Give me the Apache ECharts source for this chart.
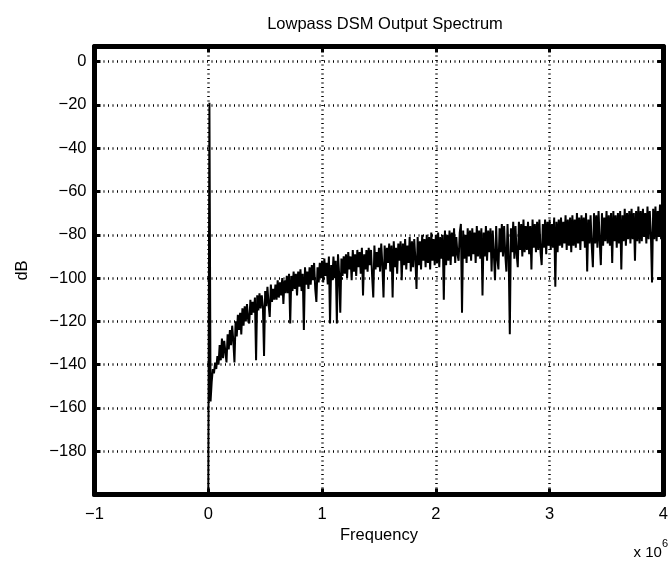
<!DOCTYPE html>
<html><head><meta charset="utf-8">
<script src="https://cdn.jsdelivr.net/npm/echarts@6/dist/echarts.min.js"></script>
<style>html,body{margin:0;padding:0;background:#fff}#c{width:671px;height:563px}</style>
</head><body><div id="c"></div>
<script>
const titleText = 'Lowpass DSM Output Spectrum';
const xAxisName = 'Frequency';
const yAxisName = 'dB';
const xTickLabels = [-1, 0, 1, 2, 3, 4];            // in units of 10^6 Hz
const yTickLabels = [0, -20, -40, -60, -80, -100, -120, -140, -160, -180];
const freqStepHz = 10000;                           // FFT bin spacing (first bin at 0 Hz)
const spectrumDb = [
  -200, -19, -157, -148, -142, -144, -139, -142, -136, -140,
  -131, -138, -128, -137, -129, -134, -139, -126, -133, -124,
  -131, -122, -129, -139, -120, -127, -117, -124, -116, -126,
  -114, -122, -113, -120, -112, -119, -121, -110, -117, -111,
  -116, -109, -138, -108, -115, -107, -114, -108, -113, -136,
  -106, -113, -104, -112, -118, -103, -111, -105, -110, -103,
  -110, -101, -109, -102, -108, -100, -112, -101, -107, -99,
  -107, -98, -121, -99, -106, -97, -105, -98, -108, -97,
  -104, -96, -106, -98, -124, -95, -103, -97, -105, -95,
  -103, -94, -101, -93, -105, -111, -95, -102, -93, -100,
  -92, -102, -91, -99, -93, -103, -90, -121, -94, -101,
  -90, -100, -92, -121, -89, -98, -116, -91, -99, -90,
  -98, -89, -100, -88, -96, -90, -101, -87, -97, -89,
  -99, -87, -95, -88, -98, -86, -108, -89, -96, -87,
  -97, -86, -94, -87, -99, -109, -85, -96, -88, -95,
  -86, -97, -84, -94, -109, -85, -96, -86, -93, -84,
  -97, -85, -109, -83, -95, -86, -98, -84, -92, -83,
  -101, -84, -94, -82, -96, -85, -93, -81, -97, -83,
  -95, -82, -91, -105, -81, -94, -83, -96, -80, -92,
  -82, -95, -80, -93, -81, -96, -79, -92, -82, -94,
  -80, -93, -79, -95, -81, -91, -80, -110, -78, -94,
  -80, -92, -78, -94, -79, -90, -77, -93, -81, -89,
  -92, -79, -75, -116, -78, -91, -80, -93, -77, -90,
  -78, -92, -77, -89, -79, -93, -76, -90, -78, -91,
  -77, -108, -79, -90, -76, -92, -78, -88, -77, -97,
  -78, -89, -101, -76, -91, -96, -77, -88, -75, -90,
  -76, -89, -97, -75, -90, -126, -77, -88, -74, -91,
  -76, -89, -95, -74, -87, -75, -90, -73, -88, -76,
  -87, -74, -89, -76, -96, -73, -86, -75, -88, -74,
  -87, -73, -88, -94, -75, -86, -73, -89, -74, -85,
  -73, -87, -75, -86, -72, -104, -74, -88, -73, -85,
  -72, -86, -74, -84, -71, -87, -73, -85, -72, -88,
  -71, -85, -73, -86, -70, -84, -72, -87, -71, -83,
  -72, -86, -70, -97, -73, -84, -71, -85, -95, -70,
  -84, -71, -86, -69, -83, -94, -70, -85, -72, -83,
  -69, -84, -71, -85, -70, -93, -69, -83, -71, -86,
  -70, -84, -69, -96, -71, -83, -68, -85, -70, -82,
  -69, -84, -68, -82, -70, -92, -69, -83, -67, -84,
  -69, -83, -68, -81, -70, -84, -67, -82, -69, -80,
  -102, -68, -82, -67, -83, -69, -80, -66, -82, -67,
  -72
];

const FONT = "'Liberation Sans', Arial, Helvetica, sans-serif";
const MINUS = '\u2212';
const fmt = v => (v < 0 ? MINUS + Math.abs(v) : String(v));
const chart = echarts.init(document.getElementById('c'), null, { renderer: 'canvas' });
const seriesData = spectrumDb.map((v, i) => [i * freqStepHz, v]);
const AX = { onZero: false, lineStyle: { color: '#000', width: 5 } };
const TICK = { show: true, inside: true, length: 6, lineStyle: { color: '#000', width: 3 } };
const GRIDLINE = { show: true, lineStyle: { color: '#000', width: 2.5, type: [1, 3.5] } };

chart.setOption({
  animation: false,
  backgroundColor: '#fff',
  title: {
    text: titleText, left: 380, top: 11, textAlign: 'center',
    textStyle: { fontFamily: FONT, fontSize: 16.5, fontWeight: 'normal', color: '#000' }
  },
  grid: { left: 94.5, right: 5.5, top: 46.5, bottom: 68.5 },
  xAxis: [{
    type: 'value', min: -1e6, max: 4e6, interval: 1e6, position: 'bottom',
    name: xAxisName, nameLocation: 'middle', nameGap: 31,
    nameTextStyle: { fontFamily: FONT, fontSize: 16.5, color: '#000' },
    axisLine: AX, axisTick: TICK, splitLine: GRIDLINE,
    axisLabel: {
      margin: 11, fontFamily: FONT, fontSize: 16.5, color: '#000',
      formatter: v => { const t = v / 1e6; return xTickLabels.includes(t) ? fmt(t) : ''; }
    }
  }, {
    type: 'value', min: -1e6, max: 4e6, interval: 1e6, position: 'top',
    axisLine: AX, axisTick: TICK, splitLine: { show: false }, axisLabel: { show: false }
  }],
  yAxis: [{
    type: 'value', min: -200, max: 7, interval: 20, position: 'left',
    name: yAxisName, nameLocation: 'middle', nameGap: 64, nameRotate: 90,
    nameTextStyle: { fontFamily: FONT, fontSize: 16.5, color: '#000' },
    axisLine: AX, axisTick: TICK, splitLine: GRIDLINE,
    axisLabel: {
      margin: 8, fontFamily: FONT, fontSize: 16.5, color: '#000',
      formatter: v => (yTickLabels.includes(v) ? fmt(v) : '')
    }
  }, {
    type: 'value', min: -200, max: 7, interval: 20, position: 'right',
    axisLine: AX, axisTick: TICK, splitLine: { show: false }, axisLabel: { show: false }
  }],
  graphic: [{
    type: 'text', right: 3, top: 538,
    style: {
      text: '{a|x 10}{b|6}',
      rich: {
        a: { fontFamily: FONT, fontSize: 15, fill: '#000', padding: [7, 0, 0, 0] },
        b: { fontFamily: FONT, fontSize: 11, fill: '#000', verticalAlign: 'top' }
      }
    }
  }],
  series: [{
    type: 'line', data: seriesData, showSymbol: false, symbol: 'none',
    xAxisIndex: 0, yAxisIndex: 0, clip: true,
    lineStyle: { color: '#000', width: 2 }
  }]
});
</script>
</body></html>
